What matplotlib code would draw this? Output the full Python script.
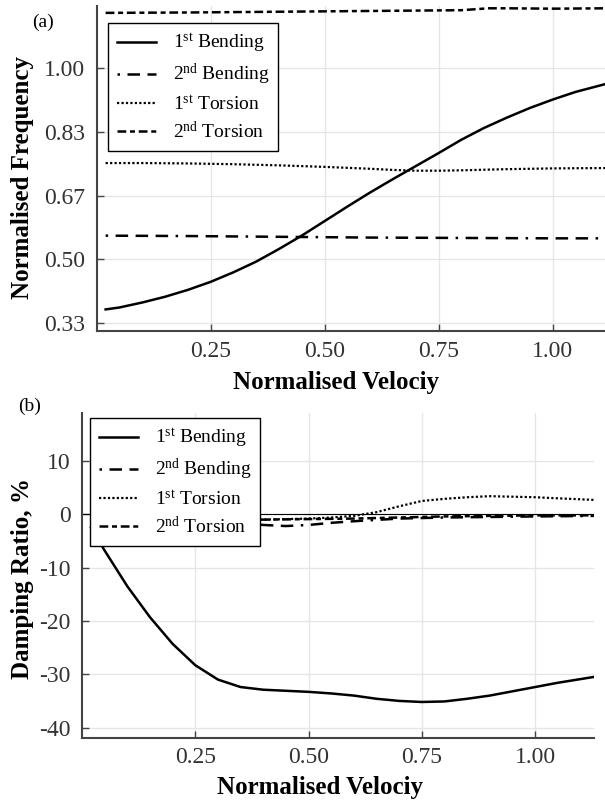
import matplotlib
matplotlib.use("Agg")
import matplotlib.pyplot as plt
import numpy as np

plt.rcParams['font.family'] = ['Liberation Serif', 'DejaVu Serif']
plt.rcParams['mathtext.fontset'] = 'custom'
plt.rcParams['mathtext.rm'] = 'Liberation Serif'
plt.rcParams['mathtext.it'] = 'Liberation Serif:italic'
plt.rcParams['mathtext.bf'] = 'Liberation Serif:bold'

# ---------------- data: (a) normalised frequency ----------------
x_b1 = [0.02, 0.05, 0.10, 0.15, 0.20, 0.25, 0.30, 0.35, 0.40, 0.45, 0.50, 0.55,
        0.60, 0.65, 0.70, 0.75, 0.80, 0.85, 0.90, 0.95, 1.00, 1.05, 1.12]
f_b1 = [0.369, 0.374, 0.387, 0.402, 0.420, 0.441, 0.466, 0.494, 0.527, 0.562, 0.600, 0.638,
        0.675, 0.710, 0.744, 0.778, 0.813, 0.844, 0.871, 0.896, 0.918, 0.938, 0.960]

x_b2 = [0.02, 0.2, 0.4, 0.6, 0.8, 1.0, 1.12]
f_b2 = [0.562, 0.561, 0.559, 0.557, 0.556, 0.555, 0.555]

x_t1 = [0.02, 0.1, 0.2, 0.3, 0.4, 0.5, 0.6, 0.65, 0.7, 0.75, 0.8, 0.9, 1.0, 1.12]
f_t1 = [0.752, 0.752, 0.751, 0.749, 0.746, 0.742, 0.737, 0.734, 0.732, 0.732, 0.733, 0.736, 0.738, 0.739]

x_t2 = [0.02, 0.2, 0.4, 0.6, 0.8, 0.86, 0.9, 1.0, 1.12]
f_t2 = [1.145, 1.146, 1.148, 1.150, 1.152, 1.157, 1.157, 1.156, 1.157]

# ---------------- data: (b) damping ratio ----------------
x_d_b1 = [0.02, 0.05, 0.10, 0.15, 0.20, 0.25, 0.30, 0.35, 0.40, 0.45, 0.50, 0.55,
          0.60, 0.65, 0.70, 0.75, 0.80, 0.85, 0.90, 0.95, 1.00, 1.05, 1.13]
d_b1 = [-2.5, -6.8, -13.5, -19.3, -24.3, -28.3, -31.0, -32.4, -32.9, -33.1, -33.3, -33.6,
        -34.0, -34.6, -35.0, -35.2, -35.1, -34.6, -34.0, -33.2, -32.4, -31.6, -30.5]

x_d_b2 = [0.02, 0.2, 0.3, 0.35, 0.4, 0.45, 0.5, 0.55, 0.6, 0.7, 0.8, 0.9, 1.0, 1.13]
d_b2 = [-0.5, -0.9, -1.3, -1.6, -2.0, -2.2, -2.0, -1.6, -1.3, -0.8, -0.6, -0.5, -0.4, -0.3]

x_d_t1 = [0.02, 0.2, 0.3, 0.4, 0.5, 0.55, 0.6, 0.65, 0.7, 0.75, 0.8, 0.85, 0.9, 0.95, 1.0, 1.05, 1.13]
d_t1 = [-0.5, -0.7, -0.8, -1.0, -0.8, -0.6, -0.3, 0.4, 1.5, 2.5, 2.9, 3.2, 3.4, 3.3, 3.2, 3.0, 2.7]

x_d_t2 = [0.02, 0.2, 0.4, 0.6, 0.8, 1.0, 1.13]
d_t2 = [-0.5, -0.7, -1.0, -0.8, -0.4, -0.2, -0.2]

labels = [r'1$^{\mathrm{st}}$ Bending', r'2$^{\mathrm{nd}}$ Bending',
          r'1$^{\mathrm{st}}$ Torsion', r'2$^{\mathrm{nd}}$ Torsion']

x_ticks = [0.25, 0.50, 0.75, 1.00]
x_ticklabels = ['0.25', '0.50', '0.75', '1.00']
fa_ticks = [1/3, 1/2, 2/3, 5/6, 1.0]
fa_ticklabels = ['0.33', '0.50', '0.67', '0.83', '1.00']
db_ticks = [10, 0, -10, -20, -30, -40]
db_ticklabels = ['10', '0', '-10', '-20', '-30', '-40']

styles = [
    dict(color='black', lw=1.8, ls='-'),
    dict(color='black', lw=1.8, ls=(0, (1, 3, 5, 3, 5, 3, 5, 3))),
    dict(color='black', lw=1.6, ls=(0, (1, 1))),
    dict(color='black', lw=1.8, ls=(0, (3.5, 1.5, 2, 1.5))),
]

fig = plt.figure(figsize=(6.05, 8.0), dpi=100)
ax1 = fig.add_axes([96.5/605, 1-331/800, (605-96.5)/605, (331-6)/800])
ax2 = fig.add_axes([82/605, 1-737.7/800, (594-82)/605, (737.7-413)/800])

def style_axes(ax):
    ax.set_facecolor('white')
    ax.grid(True, color='#e6e6e6', lw=1.0)
    ax.set_axisbelow(True)
    for s in ['top', 'right']:
        ax.spines[s].set_visible(False)
    for s in ['left', 'bottom']:
        ax.spines[s].set_color('#444444')
        ax.spines[s].set_linewidth(1.5)
    ax.tick_params(direction='in', length=5, width=1.0, color='#444444',
                   labelsize=17, labelcolor='#333333')
    ax.tick_params(axis='x', pad=7)
    ax.tick_params(axis='y', pad=8)

def make_legend(ax, anchor):
    leg = ax.legend(loc='upper left', bbox_to_anchor=anchor,
                    borderaxespad=0, fontsize=14, frameon=True, fancybox=False,
                    edgecolor='black', framealpha=1.0, handlelength=2.0,
                    labelspacing=0.35, handletextpad=0.9, borderpad=0.45)
    leg.get_frame().set_linewidth(1.0)
    return leg

# (a)
series_a = [(x_b1, f_b1), (x_b2, f_b2), (x_t1, f_t1), (x_t2, f_t2)]
for (xs, ys), st, lab in zip(series_a, styles, labels):
    ax1.plot(xs, ys, label=lab, **st)
style_axes(ax1)
ax1.set_xlim(0, 1.115)
ax1.set_ylim(0.3125, 1.163)
ax1.set_xticks(x_ticks)
ax1.set_xticklabels(x_ticklabels)
ax1.set_yticks(fa_ticks)
ax1.set_yticklabels(fa_ticklabels)
ax1.set_xlabel('Normalised Velociy', fontsize=18, fontweight='bold')
ax1.xaxis.set_label_coords((336-96.5)/508.5, -0.122)
ax1.set_ylabel('Normalised Frequency', fontsize=18, fontweight='bold')
ax1.yaxis.set_label_coords((34-96.5)/508.5, 0.472)
make_legend(ax1, ((108-96.5)/508.5, 1-(23-6)/325))
fig.text(43/605, 1-22/800, '(a)', fontsize=14, ha='center', va='center')

# (b)
series_b = [(x_d_b1, d_b1), (x_d_b2, d_b2), (x_d_t1, d_t1), (x_d_t2, d_t2)]
ax2.axhline(0, color='black', lw=0.8, zorder=1.5)
for (xs, ys), st, lab in zip(series_b, styles, labels):
    ax2.plot(xs, ys, label=lab, **st)
style_axes(ax2)
ax2.set_xlim(0, 1.13)
ax2.set_ylim(-41.9, 19.0)
ax2.set_xticks(x_ticks)
ax2.set_xticklabels(x_ticklabels)
ax2.set_yticks(db_ticks)
ax2.set_yticklabels(db_ticklabels)
ax2.set_xlabel('Normalised Velociy', fontsize=18, fontweight='bold')
ax2.xaxis.set_label_coords((320-82)/512, -0.118)
ax2.set_ylabel('Damping Ratio, %', fontsize=18, fontweight='bold')
ax2.yaxis.set_label_coords((34-82)/512, 0.49)
make_legend(ax2, ((90-82)/512, 1-(418-413)/324.7))
fig.text(30/605, 1-406/800, '(b)', fontsize=14, ha='center', va='center')

fig.savefig('out.png', dpi=100, facecolor='white')
